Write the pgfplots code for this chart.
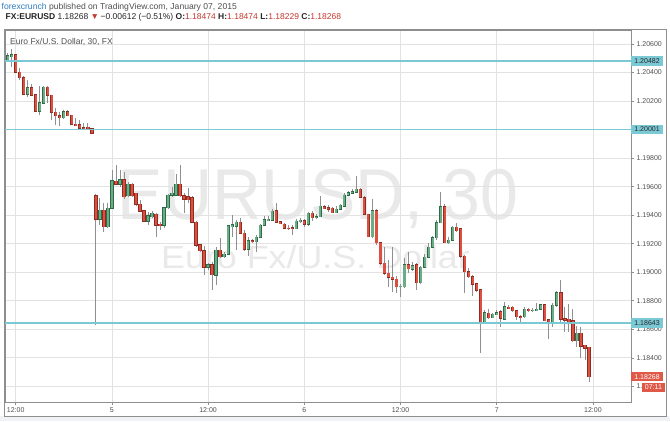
\documentclass[border=0pt]{standalone}
\usepackage{pgfplots}
\pgfplotsset{compat=1.18}
\usepackage{pgfplotstable}
\usepackage{graphicx}
\usepackage{fontspec}
\setmainfont{Liberation Sans}
\definecolor{wm}{HTML}{E9E9E9}
\definecolor{gridc}{HTML}{E2E2E2}
\definecolor{framec}{HTML}{8E8E8E}
\definecolor{levelc}{HTML}{7CC9D6}
\definecolor{upfill}{HTML}{6AAD86}
\definecolor{upedge}{HTML}{2F6A47}
\definecolor{downfill}{HTML}{DD4F3E}
\definecolor{downedge}{HTML}{8C2C22}
\definecolor{wick}{HTML}{8F8F8F}
\definecolor{labc}{HTML}{505050}
\definecolor{redtxt}{HTML}{C4382D}
\definecolor{bluetxt}{HTML}{2E7DC0}
\definecolor{redbox}{HTML}{DF5848}
\definecolor{outerbg}{HTML}{F0F2F5}

\pgfplotstableread{
k O H L C
-2 1.20488 1.20539 1.20481 1.20516
-1 1.20514 1.20563 1.20441 1.20523
0 1.20523 1.20530 1.20397 1.20402
1 1.20402 1.20430 1.20348 1.20364
2 1.20364 1.20376 1.20242 1.20247
3 1.20247 1.20348 1.20231 1.20294
4 1.20294 1.20320 1.20235 1.20242
5 1.20242 1.20250 1.20123 1.20130
6 1.20130 1.20306 1.20102 1.20189
7 1.20184 1.20306 1.20179 1.20296
8 1.20296 1.20306 1.20186 1.20240
9 1.20240 1.20242 1.20067 1.20121
10 1.20121 1.20151 1.20032 1.20097
11 1.20097 1.20123 1.20025 1.20083
12 1.20083 1.20137 1.20074 1.20125
13 1.20125 1.20137 1.20095 1.20100
14 1.20100 1.20102 1.20032 1.20037
15 1.20037 1.20081 1.20029 1.20032
16 1.20034 1.20067 1.20004 1.20009
17 1.20013 1.20046 1.20004 1.20011
18 1.20016 1.20046 1.20001 1.20006
19 1.20006 1.20011 1.19976 1.19978
20 1.19535 1.19549 1.18630 1.19371
21 1.19371 1.19520 1.19331 1.19436
22 1.19436 1.19485 1.19284 1.19319
23 1.19319 1.19485 1.19310 1.19448
24 1.19448 1.19717 1.19443 1.19640
25 1.19640 1.19752 1.19612 1.19617
26 1.19617 1.19717 1.19600 1.19647
27 1.19647 1.19705 1.19518 1.19530
28 1.19535 1.19633 1.19527 1.19617
29 1.19617 1.19626 1.19527 1.19535
30 1.19553 1.19556 1.19464 1.19476
31 1.19476 1.19506 1.19422 1.19429
32 1.19429 1.19436 1.19352 1.19359
33 1.19359 1.19424 1.19331 1.19396
34 1.19389 1.19429 1.19380 1.19413
35 1.19406 1.19415 1.19249 1.19331
36 1.19335 1.19354 1.19296 1.19331
37 1.19331 1.19459 1.19310 1.19452
38 1.19452 1.19553 1.19448 1.19541
39 1.19541 1.19600 1.19530 1.19553
40 1.19541 1.19689 1.19541 1.19617
41 1.19617 1.19752 1.19530 1.19535
42 1.19535 1.19558 1.19413 1.19511
43 1.19530 1.19591 1.19485 1.19511
44 1.19523 1.19535 1.19345 1.19352
45 1.19352 1.19359 1.19177 1.19191
46 1.19191 1.19198 1.19142 1.19152
47 1.19152 1.19184 1.18981 1.19035
48 1.19035 1.19065 1.19016 1.19051
49 1.19051 1.19074 1.18876 1.18981
50 1.18981 1.19179 1.18911 1.19156
51 1.19156 1.19240 1.19100 1.19109
52 1.19109 1.19144 1.19100 1.19126
53 1.19126 1.19331 1.19121 1.19324
54 1.19324 1.19401 1.19249 1.19331
55 1.19324 1.19366 1.19156 1.19350
56 1.19350 1.19380 1.19268 1.19273
57 1.19273 1.19296 1.19149 1.19161
58 1.19161 1.19247 1.19114 1.19221
59 1.19221 1.19233 1.19205 1.19214
60 1.19214 1.19261 1.19144 1.19245
61 1.19245 1.19338 1.19240 1.19331
62 1.19331 1.19394 1.19324 1.19366
63 1.19361 1.19394 1.19359 1.19373
64 1.19366 1.19443 1.19359 1.19429
65 1.19429 1.19485 1.19345 1.19350
66 1.19354 1.19359 1.19338 1.19343
67 1.19338 1.19342 1.19303 1.19308
68 1.19310 1.19331 1.19296 1.19308
69 1.19312 1.19331 1.19261 1.19305
70 1.19305 1.19373 1.19300 1.19359
71 1.19354 1.19380 1.19345 1.19366
72 1.19359 1.19373 1.19319 1.19338
73 1.19336 1.19422 1.19324 1.19413
74 1.19413 1.19429 1.19359 1.19382
75 1.19382 1.19408 1.19373 1.19389
76 1.19389 1.19535 1.19387 1.19464
77 1.19459 1.19471 1.19443 1.19448
78 1.19452 1.19471 1.19422 1.19445
79 1.19448 1.19457 1.19415 1.19417
80 1.19419 1.19464 1.19415 1.19443
81 1.19441 1.19478 1.19436 1.19471
82 1.19466 1.19556 1.19464 1.19541
83 1.19541 1.19570 1.19535 1.19558
84 1.19553 1.19584 1.19549 1.19565
85 1.19560 1.19675 1.19553 1.19581
86 1.19581 1.19591 1.19520 1.19525
87 1.19525 1.19535 1.19401 1.19406
88 1.19406 1.19408 1.19247 1.19249
89 1.19249 1.19513 1.19240 1.19431
90 1.19431 1.19443 1.19191 1.19207
91 1.19207 1.19212 1.19051 1.19063
92 1.19063 1.19177 1.18981 1.18993
93 1.18993 1.19086 1.18897 1.18965
94 1.18965 1.19177 1.18862 1.18951
95 1.18951 1.18974 1.18855 1.18899
96 1.18899 1.18918 1.18827 1.18902
97 1.18899 1.19100 1.18890 1.19051
98 1.19051 1.19142 1.18995 1.19023
99 1.19023 1.19072 1.19009 1.19046
100 1.19051 1.19065 1.18876 1.18927
101 1.18927 1.19044 1.18918 1.19035
102 1.19035 1.19128 1.19030 1.19105
103 1.19105 1.19205 1.19100 1.19175
104 1.19175 1.19254 1.19170 1.19242
105 1.19242 1.19366 1.19226 1.19347
106 1.19347 1.19563 1.19345 1.19459
107 1.19459 1.19478 1.19203 1.19207
108 1.19207 1.19247 1.19198 1.19226
109 1.19226 1.19324 1.19219 1.19315
110 1.19315 1.19345 1.19282 1.19291
111 1.19303 1.19310 1.19100 1.19114
112 1.19114 1.19121 1.18855 1.19004
113 1.19004 1.19030 1.18960 1.18969
114 1.18969 1.18981 1.18834 1.18918
115 1.18918 1.18925 1.18862 1.18876
116 1.18876 1.18883 1.18434 1.18653
117 1.18653 1.18735 1.18644 1.18716
118 1.18712 1.18742 1.18672 1.18681
119 1.18681 1.18714 1.18679 1.18705
120 1.18705 1.18735 1.18700 1.18716
121 1.18723 1.18735 1.18616 1.18677
122 1.18672 1.18793 1.18665 1.18758
123 1.18754 1.18770 1.18742 1.18749
124 1.18754 1.18763 1.18721 1.18730
125 1.18730 1.18735 1.18665 1.18688
126 1.18690 1.18700 1.18653 1.18687
127 1.18688 1.18756 1.18679 1.18740
128 1.18740 1.18749 1.18721 1.18730
129 1.18733 1.18749 1.18721 1.18735
130 1.18735 1.18782 1.18730 1.18742
131 1.18740 1.18777 1.18735 1.18770
132 1.18770 1.18777 1.18658 1.18660
133 1.18665 1.18672 1.18530 1.18646
134 1.18646 1.18782 1.18618 1.18770
135 1.18770 1.18871 1.18758 1.18857
136 1.18857 1.18946 1.18653 1.18672
137 1.18677 1.18758 1.18583 1.18667
138 1.18672 1.18782 1.18583 1.18653
139 1.18660 1.18740 1.18515 1.18520
140 1.18520 1.18623 1.18478 1.18572
141 1.18572 1.18618 1.18397 1.18483
142 1.18488 1.18490 1.18385 1.18470
143 1.18474 1.18474 1.18229 1.18268
}\candles

\pgfplotsset{
  body/.style n args={2}{draw=none, mark=none, forget plot,
    error bars/.cd, y dir=both, y explicit, error mark=none,
    error bar style={draw=#1, line width=#2, solid}, /pgfplots/.cd},
}

\begin{document}
\begin{tikzpicture}
\useasboundingbox (0pt,0pt) rectangle (670pt,421pt);
\fill[white] (0pt,0pt) rectangle (670pt,421pt);
\fill[outerbg] (0pt,0pt) rectangle (670pt,5pt);
\fill[white] (4.7pt,5pt) rectangle (666.7pt,391.5pt);
% header
\node[anchor=base west, inner sep=0pt, font=\fontsize{8.6}{10}\selectfont] at (1.5pt,411.5pt)
  {\textcolor{bluetxt}{forexcrunch}\ \textcolor{labc}{published on TradingView.com, January 07, 2015}};
\node[anchor=base west, inner sep=0pt, font=\fontsize{8.5}{10}\selectfont, text=black!85] at (5.5pt,401pt)
  {\textbf{FX:EURUSD} 1.18268 \textcolor{redtxt}{▼}\,−0.00612 (−0.51\%) \textbf{O:}\textcolor{redtxt}{1.18474} \textbf{H:}\textcolor{redtxt}{1.18474} \textbf{L:}\textcolor{redtxt}{1.18229} \textbf{C:}\textcolor{redtxt}{1.18268}};
% watermark
\node[anchor=base west, inner sep=0pt, text=wm, font=\fontsize{72}{72}\selectfont] at (117.5pt,201.5pt) {\scalebox{0.945}[1]{EURUSD, 30}};
\node[anchor=base west, inner sep=0pt, text=wm, font=\fontsize{32}{32}\selectfont] at (161pt,152.6pt) {\scalebox{1.12}[1]{Euro Fx/U.S. Dollar}};
\begin{axis}[
  at={(5pt,19pt)}, anchor=south west,
  width=626pt, height=372pt, scale only axis,
  xmin=-2.67, xmax=153.5, ymin=1.18090, ymax=1.20698,
  axis line style={draw=framec, line width=0.7pt},
  xtick={0,24,48,72,96,120,144},
  xticklabels={12:00,5,12:00,6,12:00,7,12:00},
  ytick={1.182,1.184,1.186,1.188,1.190,1.192,1.194,1.196,1.198,1.202,1.204,1.206},
  extra y ticks={1.200},
  extra y tick style={grid=none},
  xtick pos=left, ytick pos=right, yticklabel pos=right,
  tick align=outside, major tick length=3pt,
  tick style={draw=framec, line width=0.5pt},
  grid=major, major grid style={draw=gridc, line width=0.7pt},
  /pgf/number format/assume math mode=true,
  yticklabel style={/pgf/number format/.cd, fixed, fixed zerofill, precision=5, /tikz/.cd,
     font=\fontsize{7}{8}\selectfont, text=labc, xshift=-1pt},
  xticklabel style={font=\fontsize{7}{8}\selectfont, text=labc, yshift=1pt},
  scaled y ticks=false,
]
% wicks
\addplot[body={wick}{0.8pt}]
  table[x=k, y expr=(\thisrow{H}+\thisrow{L})/2, y error expr=(\thisrow{H}-\thisrow{L})/2] {\candles};
% down bodies
\addplot[restrict expr to domain={\thisrow{O}-\thisrow{C}}{0.0000001:1}, body={downedge}{3.3pt}]
  table[x=k, y expr=(\thisrow{O}+\thisrow{C})/2, y error expr=abs(\thisrow{C}-\thisrow{O})/2+0.00004] {\candles};
\addplot[restrict expr to domain={\thisrow{O}-\thisrow{C}}{0.0000001:1}, body={downfill}{2.1pt}]
  table[x=k, y expr=(\thisrow{O}+\thisrow{C})/2, y error expr=abs(\thisrow{C}-\thisrow{O})/2] {\candles};
% up bodies
\addplot[restrict expr to domain={\thisrow{C}-\thisrow{O}}{0:1}, body={upedge}{3.3pt}]
  table[x=k, y expr=(\thisrow{O}+\thisrow{C})/2, y error expr=abs(\thisrow{C}-\thisrow{O})/2+0.00004] {\candles};
\addplot[restrict expr to domain={\thisrow{C}-\thisrow{O}}{0:1}, body={upfill}{2.1pt}]
  table[x=k, y expr=(\thisrow{O}+\thisrow{C})/2, y error expr=abs(\thisrow{C}-\thisrow{O})/2] {\candles};
% level lines
\addplot[draw=levelc, line width=1.5pt, mark=none, forget plot] coordinates {(-3,1.20482) (154,1.20482)};
\addplot[draw=levelc, line width=1.5pt, mark=none, forget plot] coordinates {(-3,1.20001) (154,1.20001)};
\addplot[draw=levelc, line width=1.5pt, mark=none, forget plot] coordinates {(-3,1.18643) (154,1.18643)};
\coordinate (LA) at (axis cs:153.5,1.20482);
\coordinate (LB) at (axis cs:153.5,1.20001);
\coordinate (LC) at (axis cs:153.5,1.18643);
\coordinate (LD) at (axis cs:153.5,1.18268);
\end{axis}
% frame
\draw[framec, line width=0.7pt] (4.7pt,5pt) rectangle (666.7pt,391.5pt);
% title in plot
\node[anchor=west, inner sep=0pt, font=\fontsize{8.5}{10}\selectfont, text=labc] at (10pt,379.3pt) {Euro Fx/U.S. Dollar, 30, FX};
% price labels
\tikzset{pl/.style={anchor=west, inner xsep=3.2pt, inner ysep=0pt, minimum height=9.5pt, font=\fontsize{7}{8}\selectfont}}
\node[pl, fill=levelc, text=black!85] at (LA) {1.20482};
\node[pl, fill=levelc, text=black!85] at (LB) {1.20001};
\node[pl, fill=levelc, text=black!85] at (LC) {1.18643};
\node[pl, fill=redbox, text=white] at (LD) {1.18268};
\node[anchor=west, inner xsep=3pt, inner ysep=0pt, minimum height=8.5pt, font=\fontsize{7}{8}\selectfont, fill=redbox, text=white] at (641.7pt,33.5pt) {07:11};
\end{tikzpicture}
\end{document}
